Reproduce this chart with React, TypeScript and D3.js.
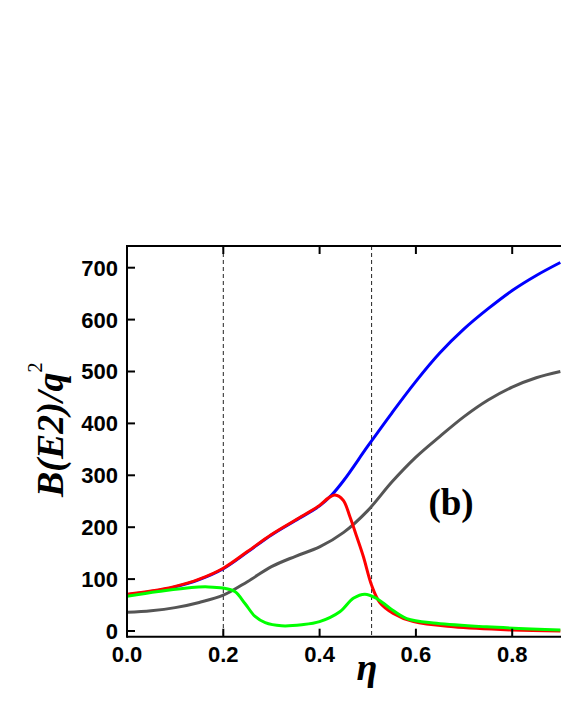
import React from "react";
import * as d3 from "d3";

const xTicks = [0, 0.2, 0.4, 0.6, 0.8];
const yTicks = [0, 100, 200, 300, 400, 500, 600, 700];
const dashedEta = [0.2, 0.508];

const blue: [number, number][] = [
  [0, 70], [0.05, 76], [0.1, 85], [0.15, 99], [0.2, 120], [0.25, 152], [0.3, 185], [0.35, 213],
  [0.4, 241], [0.425, 262], [0.45, 290], [0.5, 356], [0.55, 420], [0.6, 481], [0.65, 536],
  [0.7, 582], [0.75, 621], [0.8, 656], [0.85, 685], [0.9, 710],
];
const red: [number, number][] = [
  [0, 71], [0.05, 77], [0.1, 86], [0.15, 100], [0.2, 121], [0.25, 153], [0.3, 186], [0.35, 214],
  [0.4, 242], [0.418, 256], [0.432, 262], [0.449, 252], [0.463, 220], [0.477, 182],
  [0.491, 143], [0.508, 88], [0.525, 55], [0.553, 34], [0.595, 18], [0.678, 8], [0.8, 2], [0.9, 0],
];
const gray: [number, number][] = [
  [0, 36], [0.05, 39], [0.1, 45], [0.15, 55], [0.2, 69], [0.25, 95], [0.3, 124], [0.35, 144],
  [0.4, 162], [0.45, 190], [0.5, 232], [0.55, 287], [0.6, 335], [0.65, 375], [0.7, 413],
  [0.75, 445], [0.8, 470], [0.85, 488], [0.9, 500],
];
const green: [number, number][] = [
  [0, 67], [0.065, 76], [0.134, 84], [0.169, 85], [0.199, 83], [0.224, 76], [0.245, 53],
  [0.266, 28], [0.287, 16], [0.321, 10], [0.363, 12], [0.4, 18], [0.442, 37], [0.47, 63],
  [0.494, 71], [0.518, 63], [0.546, 44], [0.581, 24], [0.643, 15], [0.747, 8], [0.9, 2],
];

const series = [
  { data: gray, color: "#555555" },
  { data: blue, color: "#0000ff" },
  { data: red, color: "#ff0000" },
  { data: green, color: "#00ff00" },
];

export default function App() {
  const W = 561, H = 726;
  const left = 127, top = 246, bottom = 636.7, right = 620;
  const x = d3.scaleLinear().domain([0, 1]).range([left, left + 481.5]);
  const y = d3.scaleLinear().domain([0, 700]).range([631, 267.7]);
  const line = d3
    .line<[number, number]>()
    .x((d) => x(d[0]))
    .y((d) => y(d[1]))
    .curve(d3.curveCatmullRom.alpha(0.5));
  const sans = "'Liberation Sans', Arial, sans-serif";
  const serif = "'Liberation Serif', 'Times New Roman', serif";
  return (
    <svg width={W} height={H} style={{ position: "absolute", left: 0, top: 0, background: "#fff" }}>
      <defs>
        <clipPath id="plot">
          <rect x={left} y={top} width={right - left} height={bottom - top} />
        </clipPath>
      </defs>
      {dashedEta.map((e) => (
        <line key={e} x1={x(e)} x2={x(e)} y1={top} y2={bottom} stroke="#222" strokeWidth={1} strokeDasharray="4,3" />
      ))}
      <g clipPath="url(#plot)">
        {series.map((s, i) => (
          <path key={i} d={line(s.data) || ""} fill="none" stroke={s.color} strokeWidth={3} strokeLinejoin="round" />
        ))}
      </g>
      <line x1={left} x2={right} y1={top} y2={top} stroke="#000" strokeWidth={2} />
      <line x1={left} x2={right} y1={bottom} y2={bottom} stroke="#000" strokeWidth={2} />
      <line x1={left} x2={left} y1={top - 1} y2={bottom + 1} stroke="#000" strokeWidth={2} />
      {xTicks.map((t) => (
        <g key={t}>
          <line x1={x(t)} x2={x(t)} y1={bottom} y2={bottom - 8} stroke="#000" strokeWidth={2} />
          <line x1={x(t)} x2={x(t)} y1={top} y2={top + 8} stroke="#000" strokeWidth={2} />
          <text x={x(t)} y={662} textAnchor="middle" fontFamily={sans} fontWeight="bold" fontSize={22}>
            {t.toFixed(1)}
          </text>
        </g>
      ))}
      {yTicks.map((t) => (
        <g key={t}>
          <line x1={left} x2={left + 8} y1={y(t)} y2={y(t)} stroke="#000" strokeWidth={2} />
          <text x={118} y={y(t)} dy="0.36em" textAnchor="end" fontFamily={sans} fontWeight="bold" fontSize={22}>
            {t}
          </text>
        </g>
      ))}
      <text x={367} y={680} textAnchor="middle" fontFamily={serif} fontWeight="bold" fontStyle="italic" fontSize={38}>
        η
      </text>
      <text transform="translate(63,497) rotate(-90)" fontFamily={serif} fontWeight="bold" fontStyle="italic" fontSize={38}>
        B(E2)/q
        <tspan fontSize={20} dy={-21} fontStyle="normal" fontWeight="normal">2</tspan>
      </text>
      <text x={451} y={515} textAnchor="middle" fontFamily={serif} fontWeight="bold" fontSize={37}>
        (b)
      </text>
    </svg>
  );
}
